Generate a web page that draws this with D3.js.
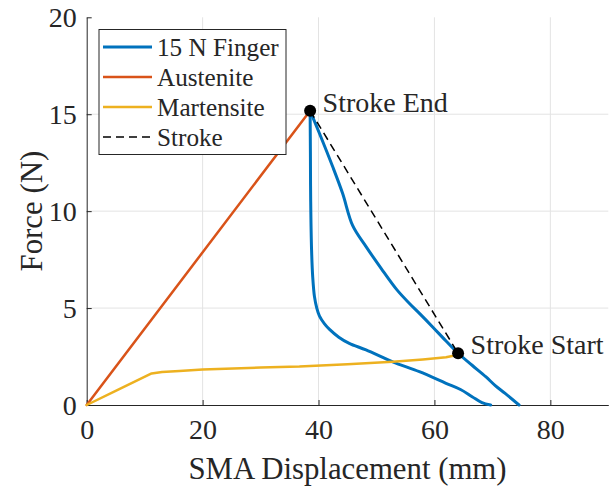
<!DOCTYPE html>
<html>
<head>
<meta charset="utf-8">
<script src="https://cdnjs.cloudflare.com/ajax/libs/d3/7.8.5/d3.min.js"></script>
<style>
  body { margin: 0; background: #fff; }
  svg text { font-family: "Liberation Serif", "Times New Roman", serif; fill: #262626; }
</style>
</head>
<body>
<div id="chart"></div>
<script>
// 15 N finger loop, loading branch (bottom right -> peak)
const fingerLoadX = [74.6, 72.2, 70.5, 68.85, 66.5, 64.08, 62.0, 59.65, 57.5, 55.65, 53.5, 50.8, 48.2, 45.9, 44.15, 42.45, 40.15, 38.55];
const fingerLoadY = [0, 0.6, 1.0, 1.46, 2.05, 2.67, 3.3, 4.04, 4.7, 5.25, 5.95, 7.05, 8.17, 9.25, 10.92, 12.29, 14.02, 15.18];
// unloading branch (peak -> bottom)
const fingerUnloadX = [38.55, 38.6, 38.65, 38.8, 39.0, 39.3, 39.7, 40.15, 41.0, 41.9, 43.5, 45.3, 48.2, 52.8, 57.4, 62.0, 64.5, 66.5, 68.2, 69.7];
const fingerUnloadY = [15.18, 13.0, 10.5, 8.0, 6.6, 5.59, 5.0, 4.6, 4.2, 3.9, 3.5, 3.18, 2.84, 2.23, 1.72, 1.12, 0.8, 0.43, 0.12, 0];
const austX = [0, 38.55];
const austY = [0, 15.18];
const martX = [0, 5, 11.2, 13, 16, 20, 30, 36.7, 45, 52.8, 58, 62, 63.5, 64.08];
const martY = [0, 0.73, 1.63, 1.7, 1.76, 1.83, 1.93, 1.98, 2.1, 2.23, 2.35, 2.46, 2.55, 2.67];
const strokeX = [38.55, 64.08];
const strokeY = [15.18, 2.67];

const xTicks = [0, 20, 40, 60, 80];
const yTicks = [0, 5, 10, 15, 20];
const seriesNames = ["15 N Finger", "Austenite", "Martensite", "Stroke"];
const seriesColors = ["#0072BD", "#D95319", "#EDB120", "#000000"];
const pointNames = ["Stroke End", "Stroke Start"];

const width = 611, height = 491;
const margin = {left: 86.7, right: 2.7, top: 17.3, bottom: 86};

const svg = d3.select("#chart").append("svg")
    .attr("width", width)
    .attr("height", height);

const x = d3.scaleLinear().domain([0, 90]).range([margin.left, width - margin.right]);
const y = d3.scaleLinear().domain([0, 20]).range([height - margin.bottom, margin.top]);

// grid
svg.append("g").selectAll("line").data(xTicks.filter(d => d > 0)).join("line")
    .attr("x1", d => x(d)).attr("x2", d => x(d))
    .attr("y1", y(0)).attr("y2", y(20))
    .attr("stroke", "#e3e3e3").attr("stroke-width", 1);
svg.append("g").selectAll("line").data(yTicks.filter(d => d > 0 && d < 20)).join("line")
    .attr("x1", x(0)).attr("x2", x(90))
    .attr("y1", d => y(d)).attr("y2", d => y(d))
    .attr("stroke", "#e3e3e3").attr("stroke-width", 1);

// axes, ticks pointing inward like matlab
const xAxis = svg.append("g")
    .attr("transform", "translate(0," + y(0) + ")")
    .call(d3.axisBottom(x).tickValues(xTicks).tickSizeInner(-5).tickSizeOuter(0).tickPadding(14));
const yAxis = svg.append("g")
    .attr("transform", "translate(" + x(0) + ",0)")
    .call(d3.axisLeft(y).tickValues(yTicks).tickSizeInner(-5).tickSizeOuter(0).tickPadding(10));

[xAxis, yAxis].forEach(function(a){
    a.select(".domain").attr("stroke", "#262626").attr("stroke-width", 1);
    a.selectAll(".tick line").attr("stroke", "#262626");
    a.selectAll(".tick text")
        .style("font-size", "28px")
        .attr("fill", "#262626")
        .style("font-family", "'Liberation Serif', serif");
});
xAxis.selectAll(".tick text").attr("dy", "0.72em");
yAxis.selectAll(".tick text").attr("dy", "0.34em");

svg.append("text")
    .text("SMA Displacement (mm)")
    .style("font-size", "30.8px")
    .attr("text-anchor", "middle")
    .attr("x", (x(0) + x(90)) / 2)
    .attr("y", 479);

svg.append("text")
    .text("Force (N)")
    .style("font-size", "30.8px")
    .attr("text-anchor", "middle")
    .attr("transform", "translate(42," + (y(0) + y(20)) / 2 + ") rotate(-90)");

// lines
const line = d3.line().x(d => x(d[0])).y(d => y(d[1]));
const smooth = d3.line().x(d => x(d[0])).y(d => y(d[1])).curve(d3.curveCatmullRom.alpha(0.5));
const series = [
    {parts: [[fingerLoadX, fingerLoadY], [fingerUnloadX, fingerUnloadY]], w: 3, gen: smooth},
    {parts: [[austX, austY]], w: 2.5, gen: line},
    {parts: [[martX, martY]], w: 2.5, gen: line},
    {parts: [[strokeX, strokeY]], w: 1.5, dash: "8,5", gen: line}
];
series.forEach(function(s, i){
    s.parts.forEach(function(p){
        svg.append("path")
            .datum(d3.zip(p[0], p[1]))
            .attr("fill", "none")
            .attr("stroke", seriesColors[i])
            .attr("stroke-width", s.w)
            .attr("stroke-linejoin", "round")
            .attr("stroke-linecap", s.dash ? "butt" : "round")
            .attr("stroke-dasharray", s.dash || null)
            .attr("d", s.gen);
    });
});

// stroke end/start markers
const pts = d3.zip(strokeX, strokeY);
svg.append("g").selectAll("circle").data(pts).join("circle")
    .attr("cx", d => x(d[0]))
    .attr("cy", d => y(d[1]))
    .attr("r", 6)
    .attr("fill", "#000");
svg.append("g").selectAll("text").data(pts).join("text")
    .text((d, i) => pointNames[i])
    .style("font-size", "28px")
    .attr("fill", "#000")
    .attr("x", d => x(d[0]) + 12.5)
    .attr("y", d => y(d[1]) + 1);

// legend
const legend = svg.append("g");
legend.append("rect")
    .attr("x", 99).attr("y", 29.5)
    .attr("width", 187).attr("height", 125)
    .attr("fill", "#fff")
    .attr("stroke", "#262626")
    .attr("stroke-width", 1);
seriesNames.forEach(function(name, i){
    const cy = 47 + i * 30;
    legend.append("line")
        .attr("x1", 103).attr("x2", 152)
        .attr("y1", cy).attr("y2", cy)
        .attr("stroke", seriesColors[i])
        .attr("stroke-width", series[i].w)
        .attr("stroke-dasharray", series[i].dash || null);
    legend.append("text")
        .text(name)
        .style("font-size", "25.2px")
        .attr("fill", "#000")
        .attr("x", 157)
        .attr("y", cy)
        .attr("dy", "0.35em");
});
</script>
</body>
</html>
